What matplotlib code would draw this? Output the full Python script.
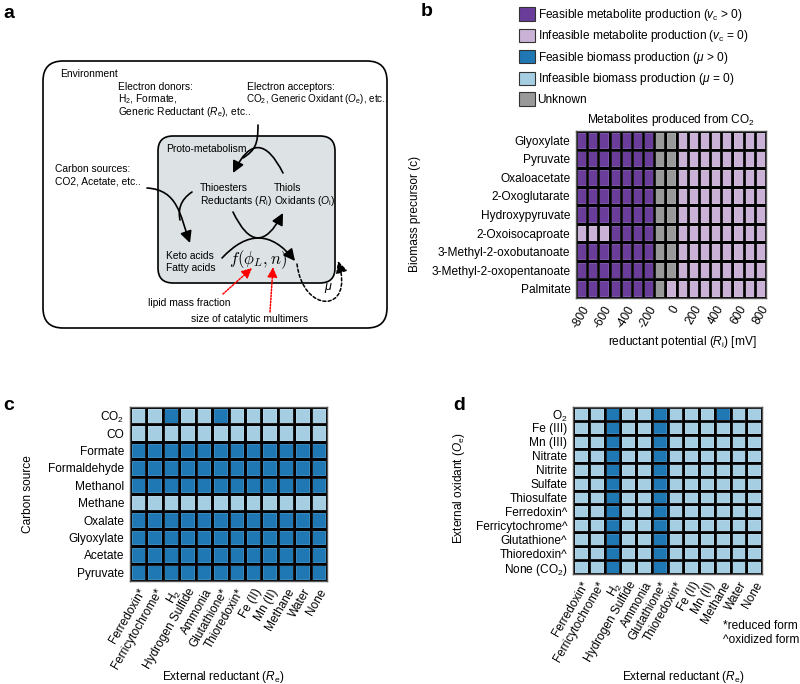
import numpy as np
import matplotlib
matplotlib.use('Agg')
import matplotlib.pyplot as plt
from matplotlib.colors import ListedColormap
from matplotlib.patches import FancyBboxPatch, FancyArrowPatch, Patch, Rectangle
from matplotlib.path import Path

plt.rcParams['font.family'] = ['Liberation Sans', 'DejaVu Sans']
plt.rcParams['mathtext.fontset'] = 'custom'
plt.rcParams['mathtext.rm'] = 'Liberation Sans'
plt.rcParams['mathtext.it'] = 'Liberation Sans:italic'
plt.rcParams['mathtext.bf'] = 'Liberation Sans:bold'

W, H = 800, 684

# status codes used in the grids below
status_order = ['F', 'I', 'B', 'N', 'U']
status_colors = ['#6a3d9a', '#cab2d6', '#1f78b4', '#a6cee3', '#999999']
legend_labels = [
    r'Feasible metabolite production ($v_\mathrm{c}$ > 0)',
    r'Infeasible metabolite production ($v_\mathrm{c}$ = 0)',
    r'Feasible biomass production ($\mu$ > 0)',
    r'Infeasible biomass production ($\mu$ = 0)',
    'Unknown',
]

# panel b
b_precursors = ['Glyoxylate', 'Pyruvate', 'Oxaloacetate', '2-Oxoglutarate',
                'Hydroxypyruvate', '2-Oxoisocaproate', '3-Methyl-2-oxobutanoate',
                '3-Methyl-2-oxopentanoate', 'Palmitate']
b_potential = [-800, -700, -600, -500, -400, -300, -200, -100, 0,
               100, 200, 300, 400, 500, 600, 700, 800]
b_ticks = [-800, -600, -400, -200, 0, 200, 400, 600, 800]
b_grid = [
    'FFFFFFFUUIIIIIIII',
    'FFFFFFFUUIIIIIIII',
    'FFFFFFFUUIIIIIIII',
    'FFFFFFFUUIIIIIIII',
    'FFFFFFFUUIIIIIIII',
    'IIIFFFFUUIIIIIIII',
    'FFFFFFFUUIIIIIIII',
    'FFFFFFFUUIIIIIIII',
    'FFFFFFFUIIIIIIIII',
]

# panels c and d
reductants = ['Ferredoxin*', 'Ferricytochrome*', 'H$_2$', 'Hydrogen Sulfide', 'Ammonia',
              'Glutathione*', 'Thioredoxin*', 'Fe (II)', 'Mn (II)', 'Methane', 'Water', 'None']
c_sources = ['CO$_2$', 'CO', 'Formate', 'Formaldehyde', 'Methanol', 'Methane',
             'Oxalate', 'Glyoxylate', 'Acetate', 'Pyruvate']
c_grid = [
    'NNBNNBNNNNNN',
    'NNNNNNNNNNNN',
    'BBBBBBBBBBBB',
    'BBBBBBBBBBBB',
    'BBBBBBBBBBBB',
    'NNNNNNNNNNNN',
    'BBBBBBBBBBBB',
    'BBBBBBBBBBBB',
    'BBBBBBBBBBBB',
    'BBBBBBBBBBBB',
]
d_oxidants = ['O$_2$', 'Fe (III)', 'Mn (III)', 'Nitrate', 'Nitrite', 'Sulfate',
              'Thiosulfate', 'Ferredoxin^', 'Ferricytochrome^', 'Glutathione^',
              'Thioredoxin^', 'None (CO$_2$)']
d_grid = [
    'NNBNNBNNNBNN',
    'NNBNNBNNNNNN',
    'NNBNNBNNNNNN',
    'NNBNNBNNNNNN',
    'NNBNNBNNNNNN',
    'NNBNNBNNNNNN',
    'NNBNNBNNNNNN',
    'NNBNNBNNNNNN',
    'NNBNNBNNNNNN',
    'NNBNNBNNNNNN',
    'NNBNNBNNNNNN',
    'NNBNNBNNNNNN',
]

LFS = 8.6  # heatmap label size


def px_rect(l, t, r, b):
    return [l / W, 1 - b / H, (r - l) / W, (b - t) / H]


def heatmap(ax, grid, rows):
    codes = np.array([[status_order.index(ch) for ch in row] for row in grid])
    nr, nc = codes.shape
    cmap = ListedColormap(status_colors)
    ax.pcolormesh(codes, cmap=cmap, vmin=-0.5, vmax=4.5,
                  edgecolors='black', linewidth=0.75)
    # faint inner highlight in every cell
    for i in range(nr):
        for j in range(nc):
            ax.add_patch(Rectangle((j + 0.1, i + 0.1), 0.8, 0.8, fill=False,
                                   ec='white', lw=0.5, alpha=0.18))
    ax.set_xlim(0, nc)
    ax.set_ylim(nr, 0)
    ax.set_yticks(np.arange(nr) + 0.5, rows, fontsize=LFS)
    ax.tick_params(length=0, pad=4)
    for s in ax.spines.values():
        s.set_color('#555555')
        s.set_linewidth(1.0)


fig = plt.figure(figsize=(W / 100, H / 100), dpi=100)

# pixel-coordinate canvas for the schematic and loose text
ax0 = fig.add_axes([0, 0, 1, 1])
ax0.set_xlim(0, W)
ax0.set_ylim(H, 0)
ax0.axis('off')

for lab, x, y in [('a', 3, 14), ('b', 421, 12), ('c', 3, 406), ('d', 453, 406)]:
    ax0.text(x, y, lab, fontsize=14, fontweight='bold', va='center', ha='left')

# ---- panel a schematic ----
ax0.add_patch(FancyBboxPatch((43, 61), 344, 267, boxstyle='round,pad=0,rounding_size=20',
                             fc='white', ec='black', lw=1.2))
ax0.add_patch(FancyBboxPatch((158, 136), 177, 147, boxstyle='round,pad=0,rounding_size=15',
                             fc='#dde3e5', ec='black', lw=1.2))

fs = 7.4
ax0.text(60, 74, 'Environment', fontsize=fs, va='center')
ax0.text(118, 87, 'Electron donors:', fontsize=fs, va='center')
ax0.text(118, 99, 'H$_2$, Formate,', fontsize=fs, va='center')
ax0.text(118, 112, r'Generic Reductant ($R_\mathrm{e}$), etc..', fontsize=fs, va='center')
ax0.text(247, 87, 'Electron acceptors:', fontsize=fs, va='center')
ax0.text(246, 99, r'CO$_2$, Generic Oxidant ($O_\mathrm{e}$), etc..', fontsize=fs - 0.3,
         va='center')
ax0.text(166, 149, 'Proto-metabolism', fontsize=fs, va='center')
ax0.text(55, 169, 'Carbon sources:', fontsize=fs, va='center')
ax0.text(55, 182, 'CO2, Acetate, etc..', fontsize=fs, va='center')
ax0.text(200, 188, 'Thioesters', fontsize=fs, va='center')
ax0.text(200, 201, r'Reductants ($R_\mathrm{i}$)', fontsize=fs, va='center')
ax0.text(274, 188, 'Thiols', fontsize=fs, va='center')
ax0.text(274, 201, r'Oxidants ($O_\mathrm{i}$)', fontsize=fs, va='center')
ax0.text(166, 256, 'Keto acids', fontsize=fs, va='center')
ax0.text(166, 268, 'Fatty acids', fontsize=fs, va='center')
ax0.text(258, 260, r'$f(\phi_L, n)$', fontsize=12, ha='center', va='center',
         math_fontfamily='cm')
ax0.text(189, 303, 'lipid mass fraction', fontsize=fs, ha='center', va='center')
ax0.text(250, 319, 'size of catalytic multimers', fontsize=fs, ha='center', va='center')
ax0.text(328, 288, r'$\mu$', fontsize=9, ha='center', va='center')

akw = dict(arrowstyle='-|>,head_length=0.5,head_width=0.25', mutation_scale=14, lw=1.2,
           color='black')
# thiols -> thioesters (upper arc)
ax0.add_patch(FancyArrowPatch((283, 173), (233, 173), connectionstyle='arc3,rad=1.0',
                              shrinkA=0, shrinkB=0, **akw))
# electron acceptor line merging into upper arc
ax0.add_patch(FancyArrowPatch(path=Path([(258, 125), (258, 145), (255, 150), (243, 158)],
                                        [Path.MOVETO, Path.CURVE4, Path.CURVE4, Path.CURVE4]),
                              arrowstyle='-', lw=1.2, color='black'))
# reductants -> oxidants (lower arc)
ax0.add_patch(FancyArrowPatch((233, 212), (283, 213), connectionstyle='arc3,rad=1.0',
                              shrinkA=0, shrinkB=0, **akw))
# keto acids -> growth arc
ax0.add_patch(FancyArrowPatch((222, 258), (295, 261), connectionstyle='arc3,rad=-0.58',
                              shrinkA=0, shrinkB=0, **akw))
# carbon sources -> keto acids
ax0.add_patch(FancyArrowPatch(path=Path([(147, 188), (178, 190), (180, 215), (190, 243)],
                                        [Path.MOVETO, Path.CURVE4, Path.CURVE4, Path.CURVE4]),
                              **akw))
ax0.add_patch(FancyArrowPatch(path=Path([(192, 192), (180, 200), (178, 210), (180, 220)],
                                        [Path.MOVETO, Path.CURVE4, Path.CURVE4, Path.CURVE4]),
                              arrowstyle='-', lw=1.2, color='black'))
# growth feedback (dashed)
ax0.add_patch(FancyArrowPatch(path=Path([(297, 264), (303, 314), (355, 314), (338, 261)],
                                        [Path.MOVETO, Path.CURVE4, Path.CURVE4, Path.CURVE4]),
                              arrowstyle='-|>,head_length=0.5,head_width=0.25',
                              mutation_scale=14, lw=1.1, color='black',
                              linestyle=(0, (2, 1.5))))
# red dotted pointers
rkw = dict(arrowstyle='-|>,head_length=0.5,head_width=0.25', mutation_scale=12, lw=1.1,
           color='red', linestyle=(0, (1, 1)), shrinkA=0, shrinkB=0)
ax0.add_patch(FancyArrowPatch((223, 294), (252, 268), **rkw))
ax0.add_patch(FancyArrowPatch((270, 312), (273, 267), **rkw))

# ---- panel b ----
ax_b = fig.add_axes(px_rect(576, 131, 766, 298))
heatmap(ax_b, b_grid, b_precursors)
ax_b.set_xticks([b_potential.index(v) + 0.5 for v in b_ticks], [str(v) for v in b_ticks],
                rotation=60, ha='right', va='top', rotation_mode='anchor', fontsize=LFS)
ax_b.set_title(r'Metabolites produced from CO$_2$', fontsize=LFS, pad=6)
ax_b.set_xlabel(r'reductant potential ($R_\mathrm{i}$) [mV]', fontsize=LFS)
ax_b.xaxis.set_label_coords(682, 334, transform=ax0.transData)
ax_b.set_ylabel('Biomass precursor (c)', fontsize=LFS)
ax_b.yaxis.set_label_coords(421, 214, transform=ax0.transData)

handles = [Patch(fc=c, ec='#333333', lw=0.8) for c in status_colors]
fig.legend(handles, legend_labels, loc='upper left', bbox_to_anchor=(519 / W, 1 - 7 / H),
           frameon=False, fontsize=LFS, handlelength=1.3, handleheight=1.3,
           handletextpad=0.25, labelspacing=0.45, borderpad=0, borderaxespad=0)

# ---- panel c ----
ax_c = fig.add_axes(px_rect(130, 407, 327, 581))
heatmap(ax_c, c_grid, c_sources)
ax_c.set_xticks(np.arange(len(reductants)) + 0.5, reductants, rotation=60, ha='right',
                va='top', rotation_mode='anchor', fontsize=LFS)
ax_c.set_xlabel(r'External reductant ($R_\mathrm{e}$)', fontsize=LFS)
ax_c.xaxis.set_label_coords(223, 669, transform=ax0.transData)
ax_c.set_ylabel('Carbon source', fontsize=LFS)
ax_c.yaxis.set_label_coords(34, 494, transform=ax0.transData)

# ---- panel d ----
ax_d = fig.add_axes(px_rect(573, 407, 762, 574))
heatmap(ax_d, d_grid, d_oxidants)
ax_d.set_xticks(np.arange(len(reductants)) + 0.5, reductants, rotation=60, ha='right',
                va='top', rotation_mode='anchor', fontsize=LFS)
ax_d.set_xlabel(r'External reductant ($R_\mathrm{e}$)', fontsize=LFS)
ax_d.xaxis.set_label_coords(683, 669, transform=ax0.transData)
ax_d.set_ylabel(r'External oxidant ($O_\mathrm{e}$)', fontsize=LFS)
ax_d.yaxis.set_label_coords(467, 488, transform=ax0.transData)

ax0.text(723, 626, '*reduced form', fontsize=LFS, va='center')
ax0.text(723, 640, '^oxidized form', fontsize=LFS, va='center')

fig.savefig('out.png', dpi=100)
